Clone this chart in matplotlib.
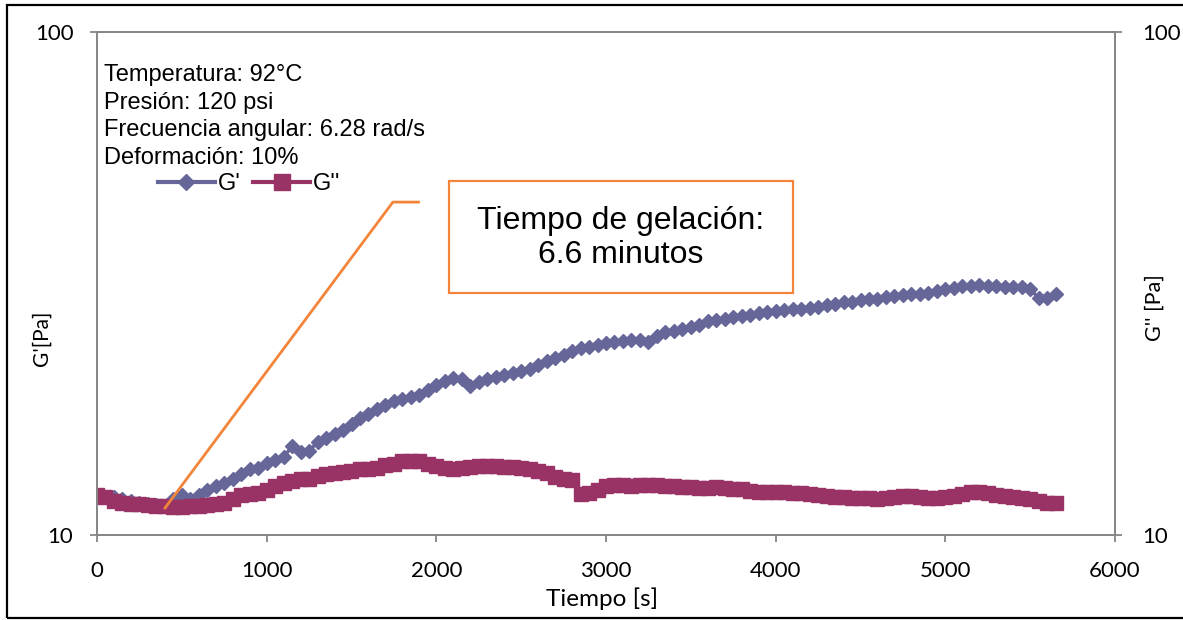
import numpy as np
import matplotlib
matplotlib.use("Agg")
import matplotlib.pyplot as plt
from matplotlib.patches import Rectangle
from matplotlib.lines import Line2D

# Gel time test: storage (G') and loss (G'') modulus vs time
tiempo = np.arange(0, 5651, 50)  # s, sampling every 50 s

g_prima = [
    12.0, 11.9, 11.9, 11.8, 11.7, 11.6, 11.5, 11.45, 11.4, 11.8,
    12.0, 11.8, 12.0, 12.3, 12.5, 12.7, 12.9, 13.2, 13.5, 13.6,
    13.9, 14.1, 14.3, 15.0, 14.6, 14.7, 15.3, 15.6, 15.9, 16.2,
    16.6, 17.1, 17.4, 17.8, 18.1, 18.5, 18.6, 18.8, 19.0, 19.4,
    19.9, 20.2, 20.5, 20.4, 19.8, 20.1, 20.4, 20.6, 20.8, 21.0,
    21.2, 21.4, 21.8, 22.2, 22.5, 22.8, 23.2, 23.5, 23.7, 23.9,
    24.1, 24.2, 24.3, 24.4, 24.4, 24.2, 24.9, 25.3, 25.5, 25.7,
    25.9, 26.2, 26.6, 26.8, 26.9, 27.1, 27.2, 27.4, 27.6, 27.8,
    27.9, 28.0, 28.1, 28.2, 28.3, 28.4, 28.6, 28.8, 29.0, 29.1,
    29.3, 29.4, 29.5, 29.7, 29.9, 30.0, 30.1, 30.2, 30.3, 30.5,
    30.8, 31.0, 31.2, 31.3, 31.4, 31.3, 31.2, 31.1, 31.1, 31.1,
    30.8, 29.6, 29.6, 30.2,
]

g_doble_prima = [
    12.0, 11.9, 11.7, 11.6, 11.55, 11.5, 11.45, 11.4, 11.4, 11.35,
    11.35, 11.4, 11.4, 11.45, 11.5, 11.6, 11.8, 12.0, 12.05, 12.1,
    12.3, 12.5, 12.7, 12.8, 12.9, 12.9, 13.1, 13.2, 13.3, 13.35,
    13.4, 13.5, 13.55, 13.6, 13.75, 13.85, 14.0, 14.05, 14.0, 13.85,
    13.7, 13.6, 13.55, 13.6, 13.65, 13.7, 13.7, 13.7, 13.65, 13.65,
    13.6, 13.55, 13.4, 13.3, 13.05, 12.95, 12.85, 12.05, 12.1, 12.3,
    12.5, 12.55, 12.55, 12.5, 12.55, 12.6, 12.55, 12.5, 12.5, 12.45,
    12.45, 12.4, 12.4, 12.45, 12.4, 12.35, 12.35, 12.25, 12.2, 12.2,
    12.15, 12.15, 12.1, 12.1, 12.05, 12.0, 11.95, 11.9, 11.9, 11.85,
    11.85, 11.85, 11.8, 11.85, 11.9, 11.95, 11.95, 11.9, 11.85, 11.85,
    11.9, 11.95, 12.05, 12.15, 12.2, 12.1, 12.0, 11.95, 11.9, 11.85,
    11.8, 11.7, 11.6, 11.6,
]

x_ticks = [0, 1000, 2000, 3000, 4000, 5000, 6000]
y_ticks = [10, 100]
y_tick_labels = ["10", "100"]

condiciones = [
    "Temperatura: 92°C",
    "Presión: 120 psi",
    "Frecuencia angular: 6.28 rad/s",
    "Deformación: 10%",
]
tiempo_gel_min = 6.6
modulo_cruce = 11.26  # Pa, where G' leaves G''

COLOR_G1 = "#666699"
COLOR_G2 = "#993366"
COLOR_ANOT = "#F2853A"
COLOR_EJE = "#868686"
TICK_FONT = "Lato"
TEXT_FONT = "Liberation Sans"

W, H = 1183, 620
fig = plt.figure(figsize=(W / 100, H / 100), dpi=100)
fig.patch.set_facecolor("white")

left, right, top, bottom = 97, 1115, 32, 535
ax = fig.add_axes([left / W, 1 - bottom / H, (right - left) / W, (bottom - top) / H])
ax2 = ax.twinx()

ax.plot(tiempo, g_prima, color=COLOR_G1, lw=2.5, marker="D", ms=7.5,
        mec=COLOR_G1, mfc=COLOR_G1, label="G'")
ax2.plot(tiempo, g_doble_prima, color=COLOR_G2, lw=2.5, marker="s", ms=10,
         mec=COLOR_G2, mfc=COLOR_G2, label="G''")

for a in (ax, ax2):
    a.set_yscale("log")
    a.set_ylim(10, 100)
    a.set_yticks(y_ticks)
    a.set_yticklabels(y_tick_labels)
    a.yaxis.set_minor_locator(matplotlib.ticker.NullLocator())
    a.set_xlim(0, 6000)
    for s in a.spines.values():
        s.set_color(COLOR_EJE)
        s.set_linewidth(1.3)
    a.tick_params(axis="both", which="major", direction="out", length=5,
                  width=1.3, color=COLOR_EJE, labelsize=16, pad=12)
    for lab in a.get_yticklabels() + a.get_xticklabels():
        lab.set_fontfamily(TICK_FONT)

ax.set_xticks(x_ticks)
ax.set_xticklabels([str(v) for v in x_ticks])
ax.tick_params(axis="x", pad=14)
ax2.tick_params(axis="y", pad=14.5)

ax.set_xlabel("Tiempo [s]", fontsize=17.5, fontfamily=TICK_FONT)
ax.xaxis.set_label_coords(0.496, -0.105)
ax.set_ylabel("G'[Pa]", fontsize=15, fontfamily=TICK_FONT)
ax.yaxis.set_label_coords(-0.045, 0.392)
ax2.set_ylabel("G'' [Pa]", fontsize=15.5, fontfamily=TICK_FONT)
ax2.yaxis.set_label_coords(1.029, 0.453)

# Gel point leader line
t_gel = tiempo_gel_min * 60
ax2.plot([t_gel, 1744, 1903], [modulo_cruce, 45.9, 45.9], color=COLOR_ANOT,
         lw=2, zorder=5, solid_capstyle="butt")

# Test conditions
for i, linea in enumerate(condiciones):
    fig.text(104 / W, 1 - (81 + 27.5 * i) / H, linea, fontsize=17,
             fontfamily=TEXT_FONT, va="baseline", ha="left")

# Legend
handles = [
    Line2D([], [], color=COLOR_G1, lw=3, marker="D", ms=8),
    Line2D([], [], color=COLOR_G2, lw=3, marker="s", ms=11),
]
fig.legend(handles, ["G'", "G''"], loc="center left",
           bbox_to_anchor=(158 / W, 1 - 184 / H), ncol=2, frameon=False,
           prop={"family": TEXT_FONT, "size": 17}, handlelength=2.4,
           handletextpad=0.12, columnspacing=0.55, borderpad=0, borderaxespad=0)

# Gel time box
fig.patches.append(Rectangle((449 / W, 1 - 293 / H), 344 / W, 112 / H,
                             transform=fig.transFigure, facecolor="white",
                             edgecolor=COLOR_ANOT, lw=1.6, zorder=6))
fig.text(621 / W, 1 - 238 / H, f"Tiempo de gelación:\n{tiempo_gel_min} minutos",
         fontsize=23, fontfamily=TEXT_FONT, ha="center", va="center",
         linespacing=1.2, zorder=7)

# Outer frame (right side runs past the canvas edge)
fig.patches.append(Rectangle((7 / W, 1 - 618 / H), 1190 / W, 613 / H,
                             transform=fig.transFigure, facecolor="none",
                             edgecolor="black", lw=1.6, zorder=8))

fig.savefig("out.png", dpi=100)
